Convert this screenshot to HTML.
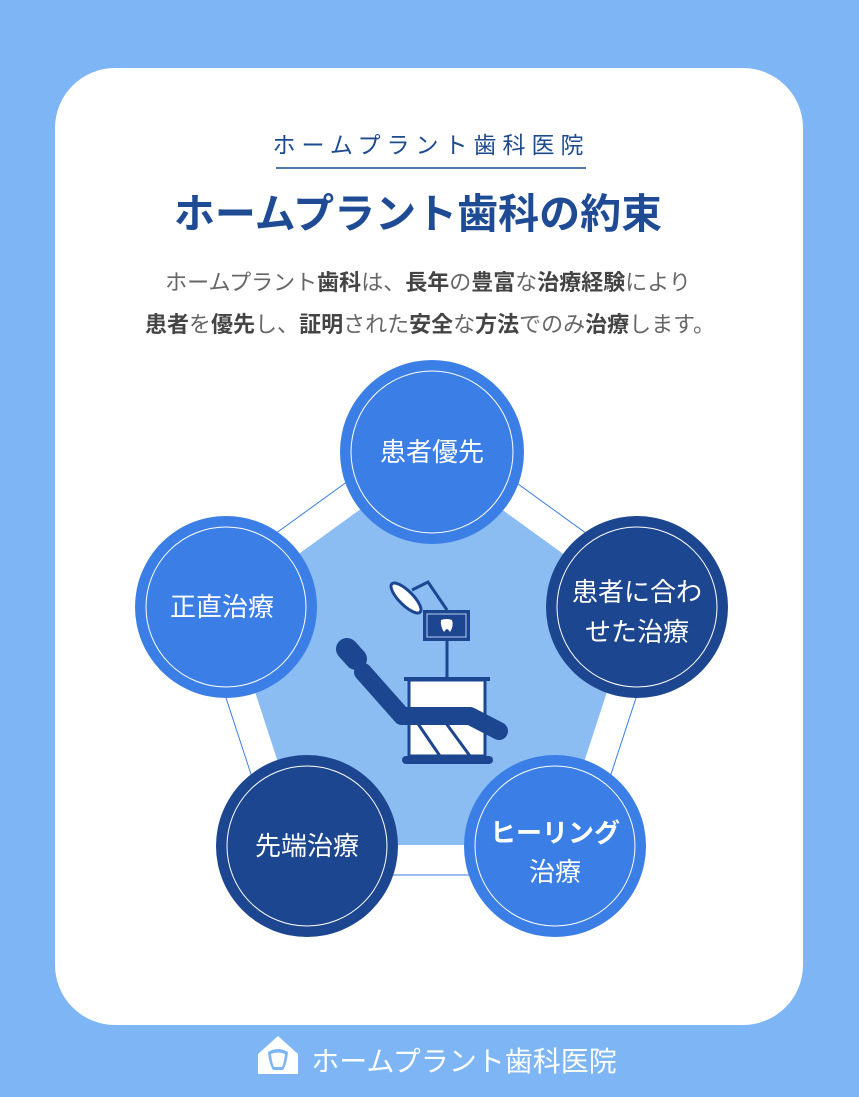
<!DOCTYPE html>
<html><head><meta charset="utf-8"><style>
html,body{margin:0;padding:0;background:#7db5f5;}
svg{display:block;}
text{font-family:"Liberation Sans","Noto Sans CJK JP",sans-serif;}
</style></head><body>
<svg width="859" height="1097" viewBox="0 0 859 1097" xmlns="http://www.w3.org/2000/svg">
<rect x="0" y="0" width="859" height="1097" fill="#7db5f5"/>
<rect x="55" y="68" width="748" height="957" rx="60" fill="#ffffff"/>

<text x="431" y="153" text-anchor="middle" font-size="23" fill="#1e4a8f" letter-spacing="6">ホームプラント歯科医院</text>
<line x1="276" y1="168" x2="586" y2="168" stroke="#1e4a8f" stroke-width="1.5"/>
<text x="418" y="228" text-anchor="middle" font-size="41" font-weight="bold" fill="#1e4b94">ホームプラント歯科の約束</text>

<text x="428" y="290" text-anchor="middle" font-size="22" fill="#666">ホームプラント<tspan font-weight="bold" fill="#444">歯科</tspan>は、<tspan font-weight="bold" fill="#444">長年</tspan>の<tspan font-weight="bold" fill="#444">豊富</tspan>な<tspan font-weight="bold" fill="#444">治療経験</tspan>により</text>
<text x="430" y="332" text-anchor="middle" font-size="22" fill="#666"><tspan font-weight="bold" fill="#444">患者</tspan>を<tspan font-weight="bold" fill="#444">優先</tspan>し、<tspan font-weight="bold" fill="#444">証明</tspan>された<tspan font-weight="bold" fill="#444">安全</tspan>な<tspan font-weight="bold" fill="#444">方法</tspan>でのみ<tspan font-weight="bold" fill="#444">治療</tspan>します。</text>

<!-- outer pentagon line -->
<polygon points="431,421 670,594 578,875 284,875 192,594" fill="none" stroke="#3a7ee6" stroke-width="1"/>
<!-- inner light pentagon -->
<polygon points="431,458 635,606 557,845 305,845 227,606" fill="#8bbcf2"/>

<!-- chair icon -->
<g stroke="#1d4690" fill="none">
  <ellipse cx="406" cy="598" rx="20" ry="7" transform="rotate(45 406 598)" fill="#fff" stroke-width="3"/>
  <polyline points="412,590 428,582 447,610" stroke-width="3"/>
  <rect x="424" y="611" width="45" height="29" fill="#1d4690" stroke-width="2"/>
  <rect x="427" y="614" width="39" height="23" fill="none" stroke="#b8d0f0" stroke-width="1"/>
  <line x1="447" y1="640" x2="447" y2="678" stroke-width="3"/>
  <rect x="409" y="680" width="76" height="76" fill="#fff" stroke-width="3"/>
  <line x1="404" y1="679" x2="490" y2="679" stroke-width="4"/>
  <line x1="412" y1="715" x2="440" y2="756" stroke-width="3"/>
  <line x1="440" y1="715" x2="470" y2="756" stroke-width="3"/>
  <polyline points="363,672 402,716 470,716 499,731" stroke-width="18" stroke-linecap="round" stroke-linejoin="round"/>
  <line x1="347" y1="649" x2="356" y2="659" stroke-width="22" stroke-linecap="round"/>
  <rect x="402" y="756" width="91" height="8" rx="4" fill="#1d4690" stroke="none"/>
</g>
<path d="M441,620 q6,-2 11,0 q2,6 -2,12 q-2,-3 -3,-3 q-1,0 -3,3 q-4,-6 -3,-12z" fill="#fff"/>

<!-- circles -->
<g>
<circle cx="432" cy="452" r="92" fill="#3a7ee6"/>
<circle cx="432" cy="452" r="81" fill="none" stroke="#fff" stroke-width="1"/>
<text x="432" y="461" text-anchor="middle" font-size="26" fill="#fff">患者優先</text>

<circle cx="637" cy="607" r="91" fill="#1d4690"/>
<circle cx="637" cy="607" r="80" fill="none" stroke="#fff" stroke-width="1"/>
<text x="637" y="601" text-anchor="middle" font-size="26" fill="#fff">患者に合わ</text>
<text x="637" y="641" text-anchor="middle" font-size="26" fill="#fff">せた治療</text>

<circle cx="555" cy="846" r="91" fill="#3a7ee6"/>
<circle cx="555" cy="846" r="80" fill="none" stroke="#fff" stroke-width="1"/>
<text x="555" y="842" text-anchor="middle" font-size="26" font-weight="bold" fill="#fff">ヒーリング</text>
<text x="555" y="881" text-anchor="middle" font-size="26" fill="#fff">治療</text>

<circle cx="307" cy="846" r="91" fill="#1d4690"/>
<circle cx="307" cy="846" r="80" fill="none" stroke="#fff" stroke-width="1"/>
<text x="307" y="855" text-anchor="middle" font-size="26" fill="#fff">先端治療</text>

<circle cx="226" cy="607" r="91" fill="#3a7ee6"/>
<circle cx="226" cy="607" r="80" fill="none" stroke="#fff" stroke-width="1"/>
<text x="222" y="616" text-anchor="middle" font-size="26" fill="#fff">正直治療</text>
</g>

<!-- footer -->
<path d="M258,1054 L278,1036 L298,1054 L298,1074 L258,1074 Z" fill="#fff"/>
<path d="M268,1052 q10,-6 20,0 q-1,12 -5,18 h-10 q-4,-6 -5,-18z" fill="#7db5f5"/>
<path d="M271,1054 q7,-3 14,0 q-1,9 -3,13 h-8 q-2,-4 -3,-13z" fill="#fff"/>
<text x="464" y="1071" text-anchor="middle" font-size="28" fill="#fff">ホームプラント歯科医院</text>
</svg>
</body></html>
